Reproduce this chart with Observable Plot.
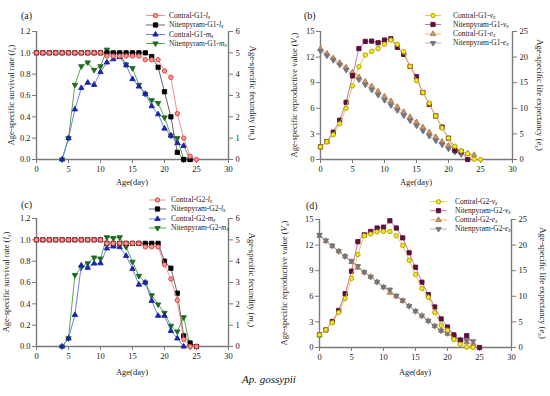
<!DOCTYPE html>
<html><head><meta charset="utf-8">
<script src="https://cdn.jsdelivr.net/npm/d3@7"></script>
<script src="https://cdn.jsdelivr.net/npm/@observablehq/plot@0.6"></script>
<style>
body{margin:0;background:#fff;}
#wrap{position:relative;width:550px;height:396px;font-family:"Liberation Serif","Times New Roman",serif;background:#fff;}
.panel{position:absolute;}
.panel svg{background:transparent;overflow:visible;}
#cap{position:absolute;left:242px;top:373px;font-style:italic;font-size:11px;color:#111;white-space:nowrap;}
</style></head><body><div id="wrap"><div id="cap">Ap. gossypii</div></div>
<script>
// ---------- tick values ----------
const ageTicks = [0, 5, 10, 15, 20, 25, 30];
const lxTicks = [0, 0.2, 0.4, 0.6, 0.8, 1.0, 1.2];
const mxTicks = [0, 1, 2, 3, 4, 5, 6];
const vxTicks = [0, 3, 6, 9, 12, 15];
const exTicks = [0, 5, 10, 15, 20, 25];

// ---------- G1 (panels a, b) ----------
// l_x, starting day 0
const G1_ctrl_lx = [1,1,1,1,1,1,1,1,1,1,1, 0.97,0.97,0.97,0.97,0.97,0.97, 0.935,0.935,0.935, 0.83,0.77,0.43,0.2,0.03,0];
const G1_nit_lx  = [1,1,1,1,1,1,1,1,1,1,1, 1,1,1,1,1,1,1, 0.965,0.865,0.635,0.4,0.067,0,0];
// m_x, starting day 4
const G1_ctrl_mx = [0,1.0,2.35,3.35,3.6,3.5,4.1,4.55,4.7,4.8,4.42,3.77,3.42,3.08,2.5,2.12,1.45,1.12,0.77,0.64,0];
const G1_nit_mx  = [0,1.0,3.5,4.37,4.55,4.2,4.37,5.15,4.97,4.95,4.45,4.28,3.5,3.07,2.78,2.65,1.97,1.12,1.0,0];
// v_x, starting day 0
const G1_ctrl_vx = [1.48,2.08,2.9,4.2,6.0,8.63,10.88,12.24,12.67,13.0,13.5,14.0,13.5,12.63,10.92,9.25,7.85,6.6,5.1,3.7,2.5,1.55,1.0,0.7,0.04,0];
const G1_nit_vx  = [1.48,2.1,3.2,4.6,6.7,9.8,13.0,13.84,13.87,13.68,14.0,14.15,13.14,12.32,10.9,9.7,7.85,6.45,5.1,3.8,2.5,1.05,0.93,0];
// e_x, starting day 0
const G1_ctrl_ex = [21.6,20.7,19.8,18.9,18.0,17.0,16.1,15.2,14.3,13.3,12.3,11.4,10.3,9.3,8.3,7.3,6.3,5.3,4.4,3.5,2.7,2.1,1.6,1.2,0.9];
const G1_nit_ex  = [21.2,20.3,19.4,18.5,17.5,16.5,15.6,14.6,13.6,12.6,11.6,10.6,9.6,8.6,7.6,6.6,5.6,4.6,3.7,2.9,2.1,1.5,1.0];

// ---------- G2 (panels c, d) ----------
const G2_ctrl_lx = [1,1,1,1,1,1,1,1,1,1,1, 0.967,0.967,0.967,0.967,0.967,0.967, 0.934,0.934,0.934, 0.766,0.633,0.434,0.066,0,0];
const G2_nit_lx  = [1,1,1,1,1,1,1,1,1,1,1, 0.967,0.967,0.967,0.967,0.967,0.967,0.967,0.967,0.967, 0.8,0.734,0.5,0.1,0.033,0];
const G2_ctrl_mx = [0,0.38,1.48,3.8,3.69,3.89,3.9,4.6,4.69,4.66,4.25,3.64,2.9,3.0,2.14,1.44,1.44,0.73,0.38,0];
const G2_nit_mx  = [0,0.38,3.35,3.7,3.9,4.17,4.12,5.12,5.08,5.12,4.67,3.97,3.31,3.0,2.4,1.97,1.58,0.97,0.70,1.37,0];
const G2_ctrl_vx = [1.48,2.07,2.9,4.1,5.74,8.1,10.9,13.1,13.3,13.55,13.6,13.6,13.1,11.95,10.23,8.55,6.9,5.9,4.1,2.6,2.03,0.94,0.39,0.04,0.02];
const G2_nit_vx  = [1.48,2.07,3.05,4.34,6.3,8.95,12.4,13.2,13.6,14.0,14.1,14.85,14.0,12.85,11.1,9.4,7.65,6.2,4.75,3.35,2.4,1.48,0.86,1.38,null,0];
const G2_ctrl_ex = [21.8,20.8,19.8,18.8,17.8,16.7,15.6,14.7,13.8,12.8,11.8,10.7,10.0,9.1,8.1,7.1,6.2,5.2,4.2,3.3,2.7,2.0,1.5,1.0,0.6];
const G2_nit_ex  = [22.0,20.9,19.9,18.8,17.8,16.9,15.9,14.7,13.8,12.8,11.8,11.3,10.1,9.2,8.1,7.1,6.2,5.2,4.2,3.3,2.8,2.1,1.5,1.4,1.2];

// ---------- helpers ----------
const AX = "#7a7a7a";
const TXT = "#1a1a1a";
const triDown = {draw(ctx, size){ const s3 = Math.sqrt(3); const y = -Math.sqrt(size/(s3*3)); ctx.moveTo(0,-y*2); ctx.lineTo(-s3*y, y); ctx.lineTo(s3*y, y); ctx.closePath(); }};
function rows(start, vals){ return vals.map((v,i)=>({day:start+i, v})).filter(d=>d.v!=null); }

const STY = {
  red:    {symbol:"circle",   fill:"#f39a9a", stroke:"#e03434", line:"#f08484"},
  black:  {symbol:"square",   fill:"#000000", stroke:"#000000", line:"#555555"},
  blue:   {symbol:"triangle", fill:"#1a22a8", stroke:"#1a22a8", line:"#6070e0"},
  green:  {symbol:triDown,    fill:"#1e6b1e", stroke:"#1e6b1e", line:"#40a040"},
  yellow: {symbol:"circle",   fill:"#f4ec14", stroke:"#a89a00", line:"#e6c24a"},
  purple: {symbol:"square",   fill:"#5c0f3e", stroke:"#5c0f3e", line:"#b86aa0"},
  tan:    {symbol:"triangle", fill:"#cc9a6a", stroke:"#a87444", line:"#f0a860"},
  gray:   {symbol:triDown,    fill:"#74747e", stroke:"#74747e", line:"#a8a8b0"}
};
const radius = st => st.symbol === "circle" ? 2.2 : st.symbol === "square" ? 2.4 : 2.0;

function rich(text, parts, fs){
  let shift = 0;
  parts.forEach(p => {
    const t = text.append("tspan");
    let dy = -shift; shift = 0;
    if (typeof p === "string") t.text(p);
    else if (p.i) t.attr("font-style","italic").text(p.i);
    else if (p.sub) { t.attr("font-style","italic").attr("font-size", fs*0.72).text(p.sub); dy += fs*0.3; shift = fs*0.3; }
    if (dy) t.attr("dy", dy);
  });
}

function makePanel(cfg){
  const f = cfg.factor;
  const marks = [
    Plot.axisX({ticks: ageTicks, tickSize:4, tickPadding:2, stroke:AX, fill:TXT, label:null, tickFormat:d=>String(d)}),
    Plot.axisY({ticks: cfg.leftTicks, tickSize:4, tickPadding:2, stroke:AX, fill:TXT, label:null, tickFormat: cfg.leftFmt}),
    Plot.axisY({anchor:"right", ticks: cfg.rightTicks.map(t=>t*f), tickSize:4, tickPadding:3, stroke:AX, fill:TXT, label:null, tickFormat: d=>String(Math.round(d/f))}),
    Plot.ruleY([0], {stroke:AX, strokeWidth:1.4}),
    Plot.ruleX([0, 30], {stroke:AX, strokeWidth:1.4})
  ];
  cfg.draw.forEach(s => {
    const st = STY[s.style];
    const data = rows(s.start, s.values);
    const y = s.right ? (d => d.v*f) : (d => d.v);
    marks.push(Plot.line(data, {x:"day", y, stroke: st.line, strokeWidth:0.9}));
    marks.push(Plot.dot(data, {x:"day", y, symbol: st.symbol, fill: st.fill, stroke: st.stroke, strokeWidth: 0.9, r: radius(st)}));
  });
  const svg = Plot.plot({
    width: 275, height: cfg.height,
    marginTop: cfg.m[0], marginRight: cfg.m[1], marginBottom: cfg.m[2], marginLeft: cfg.m[3],
    style: {fontFamily: '"Liberation Serif","Times New Roman",serif', fontSize: "8.5px", background: "transparent", color: TXT},
    x: {domain: [0, 30]},
    y: {domain: cfg.yDomain},
    marks
  });
  const g = d3.select(svg).append("g").attr("font-family", '"Liberation Serif","Times New Roman",serif').attr("fill", TXT).attr("text-anchor","start");
  // panel label
  g.append("text").attr("x", cfg.label[0]).attr("y", cfg.label[1]).attr("font-size", 10).attr("text-anchor","start").text(cfg.id);
  // axis titles
  const fs = 8.5;
  const lt = g.append("text").attr("transform", `translate(${cfg.lt[0]},${cfg.lt[1]}) rotate(-90)`).attr("text-anchor","middle").attr("dominant-baseline","middle").attr("font-size", fs);
  rich(lt, cfg.leftTitle, fs);
  const rt = g.append("text").attr("transform", `translate(${cfg.rt[0]},${cfg.rt[1]}) rotate(90)`).attr("text-anchor","middle").attr("dominant-baseline","middle").attr("font-size", fs);
  rich(rt, cfg.rightTitle, fs);
  g.append("text").attr("x", cfg.xt[0]).attr("y", cfg.xt[1]).attr("text-anchor","middle").attr("font-size", fs).text("Age(day)");
  // legend
  const L = cfg.legend;
  cfg.legendItems.forEach((s, i) => {
    const st = STY[s.style];
    const y = L.rows[i];
    g.append("line").attr("x1", L.x1).attr("x2", L.x2).attr("y1", y).attr("y2", y).attr("stroke", st.line).attr("stroke-width", 0.9);
    const r = radius(st);
    const type = st.symbol==="circle" ? d3.symbolCircle : st.symbol==="square" ? d3.symbolSquare : st.symbol==="triangle" ? d3.symbolTriangle : triDown;
    g.append("path").attr("d", d3.symbol(type, Math.PI*r*r)()).attr("transform", `translate(${L.sx},${y})`).attr("fill", st.fill).attr("stroke", st.stroke).attr("stroke-width", 0.9);
    const t = g.append("text").attr("x", L.tx).attr("y", y).attr("text-anchor","start").attr("dominant-baseline","middle").attr("font-size", 7.5);
    rich(t, s.label, 7.5);
  });
  const div = document.createElement("div");
  div.className = "panel";
  div.style.left = cfg.pos[0] + "px"; div.style.top = cfg.pos[1] + "px";
  div.appendChild(svg);
  document.getElementById("wrap").appendChild(div);
}

const lab = (grp, v) => [grp + "-", {i:v}, {sub:"x"}];

// panel (a)
makePanel({
  id:"(a)", pos:[0,0], height:190, m:[31,47,31,36], yDomain:[0,1.2], factor:0.2,
  leftTicks: lxTicks, leftFmt: d3.format(".1f"), rightTicks: mxTicks,
  label:[21,19], lt:[12,95], rt:[252,93], xt:[132,185],
  leftTitle:["Age-specific survival rate (", {i:"l"}, {sub:"x"}, ")"],
  rightTitle:["Age-specific fecundity (", {i:"m"}, {sub:"x"}, ")"],
  draw:[
    {style:"green", start:4, values:G1_nit_mx, right:true},
    {style:"blue", start:4, values:G1_ctrl_mx, right:true},
    {style:"black", start:0, values:G1_nit_lx},
    {style:"red", start:0, values:G1_ctrl_lx}
  ],
  legend:{x1:146, x2:165, sx:155.5, tx:169, rows:[15.5,25,34.5,43.5]},
  legendItems:[
    {style:"red", label:lab("Contral-G1","l")},
    {style:"black", label:lab("Nitenpyram-G1","l")},
    {style:"blue", label:lab("Contral-G1","m")},
    {style:"green", label:lab("Nitenpyram-G1","m")}
  ]
});

// panel (b)
makePanel({
  id:"(b)", pos:[275,0], height:190, m:[31,38,31,45], yDomain:[0,15], factor:0.6,
  leftTicks: vxTicks, leftFmt: d=>String(d), rightTicks: exTicks,
  label:[29,19], lt:[20,95], rt:[264,95], xt:[141,185],
  leftTitle:["Age-specific reproductive value (", {i:"V"}, {sub:"x"}, ")"],
  rightTitle:["Age-specific life expectancy (", {i:"e"}, {sub:"x"}, ")"],
  draw:[
    {style:"tan", start:0, values:G1_ctrl_ex, right:true},
    {style:"gray", start:0, values:G1_nit_ex, right:true},
    {style:"purple", start:0, values:G1_nit_vx},
    {style:"yellow", start:0, values:G1_ctrl_vx}
  ],
  legend:{x1:150, x2:166, sx:158, tx:178, rows:[15.5,24.5,34,43]},
  legendItems:[
    {style:"yellow", label:lab("Contral-G1","v")},
    {style:"purple", label:lab("Nitenpyram-G1","v")},
    {style:"tan", label:lab("Contral-G1","e")},
    {style:"gray", label:lab("Nitenpyram-G1","e")}
  ]
});

// panel (c)
makePanel({
  id:"(c)", pos:[0,190], height:190, m:[28,47,34,36], yDomain:[0,1.2], factor:0.2,
  leftTicks: lxTicks, leftFmt: d3.format(".1f"), rightTicks: mxTicks,
  label:[21,18], lt:[7,92], rt:[251,90], xt:[132,185],
  leftTitle:["Age-specific survival rate (", {i:"l"}, {sub:"x"}, ")"],
  rightTitle:["Age-specific fecundity (", {i:"m"}, {sub:"x"}, ")"],
  draw:[
    {style:"green", start:4, values:G2_nit_mx, right:true},
    {style:"blue", start:4, values:G2_ctrl_mx, right:true},
    {style:"black", start:0, values:G2_nit_lx},
    {style:"red", start:0, values:G2_ctrl_lx}
  ],
  legend:{x1:149, x2:166, sx:157.5, tx:171, rows:[10,19,29,38]},
  legendItems:[
    {style:"red", label:lab("Contral-G2","l")},
    {style:"black", label:lab("Nitenpyram-G2","l")},
    {style:"blue", label:lab("Contral-G2","m")},
    {style:"green", label:lab("Nitenpyram-G2","m")}
  ]
});

// panel (d)
makePanel({
  id:"(d)", pos:[275,190], height:190, m:[29,39,33,44], yDomain:[0,15], factor:0.6,
  leftTicks: vxTicks, leftFmt: d=>String(d), rightTicks: exTicks,
  label:[31,19], lt:[10,93], rt:[267,93], xt:[140,185],
  leftTitle:["Age-specific reproductive value (", {i:"V"}, {sub:"x"}, ")"],
  rightTitle:["Age-specific life expectancy (", {i:"e"}, {sub:"x"}, ")"],
  draw:[
    {style:"tan", start:0, values:G2_ctrl_ex, right:true},
    {style:"gray", start:0, values:G2_nit_ex, right:true},
    {style:"purple", start:0, values:G2_nit_vx},
    {style:"yellow", start:0, values:G2_ctrl_vx}
  ],
  legend:{x1:155, x2:172, sx:163.5, tx:180, rows:[11.7,20.7,30,39]},
  legendItems:[
    {style:"yellow", label:lab("Contral-G2","v")},
    {style:"purple", label:lab("Nitenpyram-G2","v")},
    {style:"tan", label:lab("Contral-G2","e")},
    {style:"gray", label:lab("Nitenpyram-G2","e")}
  ]
});
</script></body></html>
